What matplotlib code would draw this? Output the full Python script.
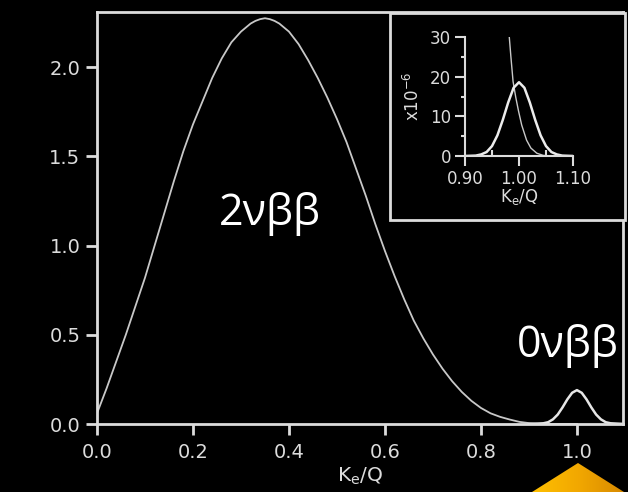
import numpy as np
import matplotlib
matplotlib.use("Agg")
import matplotlib.pyplot as plt
from matplotlib.patches import Rectangle, Polygon

# ---- data ----
ke_2nu = [0.00, 0.02, 0.04, 0.06, 0.08, 0.10, 0.12, 0.14, 0.16, 0.18,
          0.20, 0.22, 0.24, 0.26, 0.28, 0.30, 0.32, 0.33, 0.34, 0.35,
          0.36, 0.37, 0.38, 0.40, 0.42, 0.44, 0.46, 0.48, 0.50, 0.52,
          0.54, 0.56, 0.58, 0.60, 0.62, 0.64, 0.66, 0.68, 0.70, 0.72,
          0.74, 0.76, 0.78, 0.80, 0.82, 0.84, 0.86, 0.88, 0.90, 0.92,
          0.94, 1.00]
rate_2nu = [0.06, 0.20, 0.35, 0.50, 0.66, 0.82, 1.00, 1.18, 1.36, 1.53,
            1.68, 1.81, 1.94, 2.05, 2.14, 2.20, 2.245, 2.26, 2.27, 2.275,
            2.27, 2.26, 2.245, 2.20, 2.13, 2.04, 1.94, 1.83, 1.71, 1.58,
            1.43, 1.28, 1.12, 0.97, 0.83, 0.70, 0.58, 0.48, 0.39, 0.31,
            0.24, 0.18, 0.13, 0.09, 0.06, 0.04, 0.025, 0.012, 0.005, 0.001,
            0.0, 0.0]

ke_0nu = [0.90, 0.93, 0.94, 0.95, 0.96, 0.97, 0.98, 0.99, 1.00,
          1.01, 1.02, 1.03, 1.04, 1.05, 1.06, 1.07, 1.10]
rate_0nu = [0.0, 0.004, 0.01, 0.026, 0.053, 0.093, 0.138, 0.175, 0.19,
            0.175, 0.138, 0.093, 0.053, 0.026, 0.01, 0.004, 0.0]

# inset (x10^-6)
ke_in_peak = [0.90, 0.92, 0.93, 0.94, 0.95, 0.96, 0.97, 0.98, 0.99, 1.00,
              1.01, 1.02, 1.03, 1.04, 1.05, 1.06, 1.07, 1.08, 1.10]
rate_in_peak = [0.0, 0.1, 0.4, 1.0, 2.5, 5.2, 9.1, 13.5, 17.2, 18.6,
                17.2, 13.5, 9.1, 5.2, 2.5, 1.0, 0.4, 0.1, 0.0]
ke_in_tail = [0.982, 0.985, 0.989, 0.994, 0.999, 1.005, 1.014, 1.022, 1.033, 1.045, 1.06]
rate_in_tail = [30.0, 25.0, 18.8, 14.8, 11.4, 7.8, 4.0, 2.0, 0.7, 0.15, 0.0]

main_xticks = [0.0, 0.2, 0.4, 0.6, 0.8, 1.0]
main_yticks = [0.0, 0.5, 1.0, 1.5, 2.0]
inset_xticks = [0.90, 1.00, 1.10]
inset_yticks = [0, 10, 20, 30]

W, H = 628, 492
fg = "#dcdcdc"
plt.rcParams["font.family"] = ["DejaVu Sans"]
plt.rcParams["mathtext.default"] = "regular"

fig = plt.figure(figsize=(W / 100, H / 100), dpi=100, facecolor="black")

def frac(x0, y0, x1, y1):
    return [x0 / W, 1 - y1 / H, (x1 - x0) / W, (y1 - y0) / H]

# ---- main axes ----
ax = fig.add_axes(frac(97, 12, 623, 424))
ax.set_facecolor("black")
ax.plot(ke_2nu, rate_2nu, color="#c8c8c8", lw=1.3)
ax.plot(ke_0nu, rate_0nu, color="#e6e6e6", lw=1.8)
ax.set_xlim(0, 1.096)
ax.set_ylim(0, 2.31)
ax.set_xticks(main_xticks)
ax.set_xticklabels([f"{v:.1f}" for v in main_xticks])
ax.set_yticks(main_yticks)
ax.set_yticklabels([f"{v:.1f}" for v in main_yticks])
for s in ax.spines.values():
    s.set_color(fg)
    s.set_linewidth(2)
ax.tick_params(colors=fg, labelsize=14, length=8, width=2, direction="out")
ax.tick_params(axis="x", pad=6)
ax.tick_params(axis="y", pad=4)
ax.set_xlabel("K$_e$/Q", color=fg, fontsize=14.5, labelpad=2)

ax.text(0.36, 1.18, "2νββ", color="white", fontsize=31, ha="center", va="center",
        family=["Open Sans", "DejaVu Sans"])
ax.text(0.98, 0.44, "0νββ", color="white", fontsize=31, ha="center", va="center",
        family=["Open Sans", "DejaVu Sans"])

# ---- inset frame ----
fig.patches.append(Rectangle((390 / W, 1 - 220 / H), 235 / W, 207 / H,
                             transform=fig.transFigure, fill=True, facecolor="black",
                             edgecolor=fg, lw=2, zorder=5))

# ---- inset axes ----
ins = fig.add_axes(frac(465, 37, 573, 156), zorder=6)
ins.set_facecolor("none")
ins.plot(ke_in_tail, rate_in_tail, color="#c8c8c8", lw=1.0)
ins.plot(ke_in_peak, rate_in_peak, color="#ececec", lw=1.8)
ins.set_xlim(0.90, 1.10)
ins.set_ylim(0, 30)
ins.set_xticks(inset_xticks)
ins.set_xticklabels([f"{v:.2f}" for v in inset_xticks])
ins.set_yticks(inset_yticks)
ins.set_xticks([0.95, 1.05], minor=True)
ins.set_yticks([5, 15, 25], minor=True)
ins.spines["top"].set_visible(False)
ins.spines["right"].set_visible(False)
for k in ("left", "bottom"):
    ins.spines[k].set_color(fg)
    ins.spines[k].set_linewidth(1.5)
ins.tick_params(colors=fg, labelsize=12, length=7, width=1.5, direction="out", pad=3)
ins.tick_params(axis="x", which="minor", direction="in", length=4, width=1.5, colors=fg)
ins.tick_params(axis="y", which="minor", direction="out", length=3, width=1.5, colors=fg)
ins.set_xlabel("K$_e$/Q", color=fg, fontsize=12, labelpad=-1)
ins.set_ylabel("x10$^{-6}$", color=fg, fontsize=12, labelpad=5)

# ---- orange triangle decoration ----
bg = fig.add_axes([0, 0, 1, 1], zorder=10)
bg.set_xlim(0, W)
bg.set_ylim(H, 0)
bg.axis("off")
tri = Polygon([(578, 463), (532, 492), (624, 492)], closed=True, facecolor="none",
              edgecolor="none")
bg.add_patch(tri)
grad = np.linspace(0, 1, 256).reshape(1, -1)
img = bg.imshow(grad, extent=(532, 624, 492, 463), cmap=matplotlib.colors.LinearSegmentedColormap.from_list(
    "g", ["#ffc000", "#f2a800", "#d88a00"]), aspect="auto")
img.set_clip_path(tri)

fig.savefig("out.png", dpi=100, facecolor="black")
